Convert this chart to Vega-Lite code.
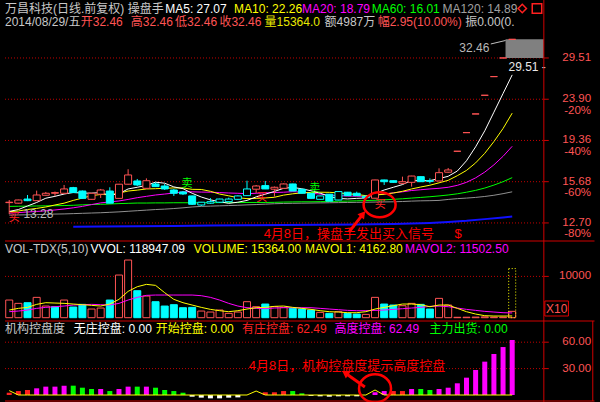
{
"$schema":"https://vega.github.io/schema/vega-lite/v6.json",
"background":"#000000",
"padding":0,
"autosize":{"type":"none"},
"width":600,"height":402,
"config":{"view":{"stroke":null},"font":"Liberation Sans, Noto Sans CJK SC","text":{"font":"Liberation Sans, Noto Sans CJK SC"}},
"datasets":{
"k":[
{"i":0,"o":14.09,"h":14.28,"l":13.28,"c":14.12,"d":"up","ma5":13.47,"ma10":13.45,"ma20":13.35,"ma60":13.82,"ma120":13.22,"v":42771,"vd":"up","mv1":18561,"mv2":14526,"ctl":2.6,"ct":"有庄","ks":5},
{"i":1,"o":14.05,"h":14.3,"l":14.03,"c":14.28,"d":"up","ma5":13.6,"ma10":13.5,"ma20":13.39,"ma60":13.83,"ma120":13.23,"v":34701,"vd":"up","mv1":22596,"mv2":16140,"ctl":4.5,"ct":"有庄","ks":0},
{"i":2,"o":14.35,"h":14.65,"l":14.2,"c":14.23,"d":"down","ma5":13.85,"ma10":13.6,"ma20":13.43,"ma60":13.84,"ma120":13.24,"v":36315,"vd":"down","mv1":25017,"mv2":18561,"ctl":5.7,"ct":"有庄","ks":0},
{"i":3,"o":14.23,"h":14.98,"l":14.22,"c":14.65,"d":"up","ma5":14.1,"ma10":13.68,"ma20":13.47,"ma60":13.85,"ma120":13.25,"v":49227,"vd":"up","mv1":32280,"mv2":22596,"ctl":7.6,"ct":"高度","ks":0},
{"i":4,"o":14.63,"h":14.88,"l":14.6,"c":14.78,"d":"up","ma5":14.41,"ma10":13.78,"ma20":13.51,"ma60":13.86,"ma120":13.27,"v":28245,"vd":"up","mv1":36315,"mv2":25017,"ctl":9.5,"ct":"高度","ks":0},
{"i":5,"o":14.78,"h":14.91,"l":14.58,"c":14.83,"d":"up","ma5":14.55,"ma10":13.92,"ma20":13.57,"ma60":13.87,"ma120":13.29,"v":26631,"vd":"down","mv1":35508,"mv2":26631,"ctl":9.5,"ct":"高度","ks":0},
{"i":6,"o":14.78,"h":15.42,"l":14.77,"c":15.11,"d":"up","ma5":14.72,"ma10":14.05,"ma20":13.64,"ma60":13.88,"ma120":13.3,"v":42771,"vd":"up","mv1":34701,"mv2":28245,"ctl":10.6,"ct":"高度","ks":0},
{"i":7,"o":15.21,"h":15.27,"l":14.8,"c":14.83,"d":"down","ma5":14.84,"ma10":14.25,"ma20":13.72,"ma60":13.9,"ma120":13.32,"ma250":12.45,"v":25824,"vd":"down","mv1":33087,"mv2":30666,"ctl":10.6,"ct":"出货","ks":0},
{"i":8,"o":14.95,"h":14.99,"l":14.38,"c":14.4,"d":"down","ma5":14.79,"ma10":14.42,"ma20":13.82,"ma60":13.93,"ma120":13.34,"v":32280,"vd":"down","mv1":31473,"mv2":31473,"ctl":8.3,"ct":"出货","ks":0},
{"i":9,"o":14.33,"h":14.8,"l":14.32,"c":14.78,"d":"up","ma5":14.79,"ma10":14.6,"ma20":13.95,"ma60":13.95,"ma120":13.36,"v":20982,"vd":"up","mv1":29859,"mv2":32280,"ctl":6.8,"ct":"出货","ks":0},
{"i":10,"o":14.71,"h":15.11,"l":14.43,"c":15.03,"d":"up","ma5":14.83,"ma10":14.69,"ma20":14.07,"ma60":13.97,"ma120":13.38,"ma250":12.47,"v":23403,"vd":"up","mv1":28245,"mv2":31473,"ctl":6.8,"ct":"高度","ks":0},
{"i":11,"o":14.95,"h":15.24,"l":14.04,"c":14.05,"d":"down","ma5":14.62,"ma10":14.67,"ma20":14.14,"ma60":13.99,"ma120":13.41,"v":42771,"vd":"down","mv1":33087,"mv2":30666,"ctl":4.5,"ct":"出货","ks":0},
{"i":12,"o":14.4,"h":15.5,"l":14.39,"c":15.48,"d":"up","ma5":14.75,"ma10":14.79,"ma20":14.21,"ma60":14.02,"ma120":13.44,"v":103296,"vd":"up","mv1":44385,"mv2":34701,"ctl":6.8,"ct":"高度","ks":0},
{"i":13,"o":15.48,"h":16.71,"l":15.46,"c":16.23,"d":"up","ma5":15.11,"ma10":14.95,"ma20":14.32,"ma60":14.04,"ma120":13.48,"v":139611,"vd":"up","mv1":63753,"mv2":42771,"ctl":9.5,"ct":"高度","ks":0},
{"i":14,"o":15.74,"h":15.9,"l":15.34,"c":15.42,"d":"down","ma5":15.24,"ma10":15.02,"ma20":14.45,"ma60":14.06,"ma120":13.52,"ma250":12.49,"v":65367,"vd":"down","mv1":75051,"mv2":49227,"ctl":9.5,"ct":"出货","ks":0},
{"i":15,"o":15.16,"h":15.95,"l":15.15,"c":15.76,"d":"up","ma5":15.39,"ma10":15.11,"ma20":14.55,"ma60":14.06,"ma120":13.56,"v":52455,"vd":"up","mv1":80700,"mv2":54069,"ctl":9.5,"ct":"高度","ks":0},
{"i":16,"o":15.5,"h":15.63,"l":15.27,"c":15.29,"d":"down","ma5":15.64,"ma10":15.13,"ma20":14.65,"ma60":14.07,"ma120":13.6,"v":38736,"vd":"down","mv1":78279,"mv2":54876,"ctl":8.3,"ct":"出货","ks":0},
{"i":17,"o":15.34,"h":15.5,"l":15.03,"c":15.11,"d":"down","ma5":15.56,"ma10":15.16,"ma20":14.72,"ma60":14.07,"ma120":13.63,"v":28245,"vd":"down","mv1":60525,"mv2":54876,"ctl":5.7,"ct":"出货","ks":0},
{"i":18,"o":15.03,"h":15.11,"l":14.58,"c":14.78,"d":"down","ma5":15.27,"ma10":15.19,"ma20":14.8,"ma60":14.08,"ma120":13.67,"ma250":12.51,"v":31473,"vd":"down","mv1":44385,"mv2":54876,"ctl":4.5,"ct":"出货","ks":0},
{"i":19,"o":14.88,"h":14.95,"l":14.65,"c":14.73,"d":"down","ma5":15.13,"ma10":15.19,"ma20":14.89,"ma60":14.08,"ma120":13.72,"v":24210,"vd":"down","mv1":36315,"mv2":54876,"ctl":2.6,"ct":"出货","ks":0},
{"i":20,"o":14.58,"h":14.6,"l":13.92,"c":13.97,"d":"down","ma5":14.78,"ma10":15.08,"ma20":14.89,"ma60":14.08,"ma120":13.78,"v":25017,"vd":"down","mv1":30666,"mv2":54876,"ctl":-1.9,"ct":"无庄","ks":0},
{"i":21,"o":14.12,"h":14.14,"l":13.85,"c":13.92,"d":"hollow","ma5":14.5,"ma10":15.07,"ma20":14.87,"ma60":14.08,"ma120":13.82,"v":16140,"vd":"up","mv1":25017,"mv2":53262,"ctl":-3,"ct":"无庄","ks":0},
{"i":22,"o":14.16,"h":14.42,"l":14,"c":14.05,"d":"hollow","ma5":14.29,"ma10":14.93,"ma20":14.86,"ma60":14.09,"ma120":13.84,"ma250":12.53,"v":13719,"vd":"up","mv1":20175,"mv2":49227,"ctl":-3.8,"ct":"无庄","ks":0},
{"i":23,"o":14.35,"h":14.37,"l":14.07,"c":14.12,"d":"hollow","ma5":14.16,"ma10":14.72,"ma20":14.83,"ma60":14.09,"ma120":13.86,"v":18561,"vd":"up","mv1":16947,"mv2":42771,"ctl":-3.8,"ct":"无庄","ks":0},
{"i":24,"o":14.35,"h":14.45,"l":14.14,"c":14.16,"d":"hollow","ma5":14.04,"ma10":14.59,"ma20":14.8,"ma60":14.09,"ma120":13.88,"v":10491,"vd":"up","mv1":14526,"mv2":34701,"ctl":-3,"ct":"无庄","ks":0},
{"i":25,"o":14.58,"h":14.62,"l":14.28,"c":14.33,"d":"hollow","ma5":14.12,"ma10":14.45,"ma20":14.78,"ma60":14.09,"ma120":13.9,"v":13719,"vd":"up","mv1":16947,"mv2":28245,"ctl":-2.7,"ct":"无庄","ks":0},
{"i":26,"o":15.11,"h":15.76,"l":14.58,"c":14.6,"d":"hollow","ma5":14.25,"ma10":14.38,"ma20":14.75,"ma60":14.1,"ma120":13.93,"ma250":12.55,"v":38736,"vd":"up","mv1":20982,"mv2":24210,"ks":0},
{"i":27,"o":15.09,"h":15.42,"l":14.8,"c":15.34,"d":"up","ma5":14.51,"ma10":14.4,"ma20":14.78,"ma60":14.1,"ma120":13.95,"v":26631,"vd":"up","mv1":24210,"mv2":22596,"ks":4.5},
{"i":28,"o":15.37,"h":15.74,"l":15.1,"c":15.11,"d":"down","ma5":14.71,"ma10":14.43,"ma20":14.81,"ma60":14.1,"ma120":13.98,"v":33087,"vd":"down","mv1":25017,"mv2":21789,"ctl":3.1,"ct":"有庄","ks":0},
{"i":29,"o":15.09,"h":15.3,"l":14.53,"c":15.24,"d":"up","ma5":14.92,"ma10":14.48,"ma20":14.84,"ma60":14.11,"ma120":14.01,"v":26631,"vd":"up","mv1":27438,"mv2":23403,"ctl":3.1,"ct":"有庄","ks":0},
{"i":30,"o":15.16,"h":15.54,"l":15.15,"c":15.5,"d":"up","ma5":15.16,"ma10":14.64,"ma20":14.86,"ma60":14.13,"ma120":14.03,"ma250":12.57,"v":25017,"vd":"up","mv1":28245,"mv2":24210,"ctl":4.5,"ct":"有庄","ks":0},
{"i":31,"o":15.5,"h":15.52,"l":14.94,"c":14.95,"d":"down","ma5":15.23,"ma10":14.74,"ma20":14.9,"ma60":14.14,"ma120":14.04,"v":22596,"vd":"down","mv1":25017,"mv2":24210,"ctl":4.5,"ct":"出货","ks":0},
{"i":32,"o":15.09,"h":15.11,"l":14.76,"c":14.78,"d":"down","ma5":15.12,"ma10":14.81,"ma20":14.87,"ma60":14.15,"ma120":14.05,"v":20982,"vd":"down","mv1":22596,"mv2":24210,"ctl":1.9,"ct":"出货","ks":0},
{"i":33,"o":14.78,"h":14.8,"l":14.38,"c":14.4,"d":"down","ma5":14.97,"ma10":14.84,"ma20":14.78,"ma60":14.15,"ma120":14.06,"v":18561,"vd":"down","mv1":20175,"mv2":24210,"ctl":-1,"ct":"无庄","ks":0},
{"i":34,"o":14.58,"h":14.6,"l":14.31,"c":14.33,"d":"hollow","ma5":14.79,"ma10":14.86,"ma20":14.72,"ma60":14.16,"ma120":14.07,"ma250":12.58,"v":12912,"vd":"up","mv1":16947,"mv2":22596,"ctl":-1.5,"ct":"无庄","ks":0},
{"i":35,"o":14.71,"h":14.72,"l":14.18,"c":14.2,"d":"down","ma5":14.53,"ma10":14.85,"ma20":14.65,"ma60":14.17,"ma120":14.08,"v":10491,"vd":"down","mv1":14526,"mv2":20982,"ctl":-1.9,"ct":"无庄","ks":0},
{"i":36,"o":14.91,"h":14.92,"l":14.26,"c":14.28,"d":"hollow","ma5":14.4,"ma10":14.81,"ma20":14.6,"ma60":14.19,"ma120":14.09,"v":14526,"vd":"up","mv1":13719,"mv2":19368,"ctl":-1.5,"ct":"无庄","ks":0},
{"i":37,"o":14.86,"h":14.88,"l":14.58,"c":14.6,"d":"down","ma5":14.36,"ma10":14.74,"ma20":14.57,"ma60":14.2,"ma120":14.1,"v":10491,"vd":"down","mv1":12105,"mv2":17754,"ctl":-1.5,"ct":"无庄","ks":0},
{"i":38,"o":14.78,"h":14.9,"l":14.58,"c":14.6,"d":"down","ma5":14.4,"ma10":14.69,"ma20":14.56,"ma60":14.22,"ma120":14.11,"ma250":12.6,"v":8877,"vd":"down","mv1":12105,"mv2":16947,"ctl":-1.5,"ct":"无庄","ks":0},
{"i":39,"o":14.56,"h":14.6,"l":14.4,"c":14.45,"d":"down","ma5":14.43,"ma10":14.6,"ma20":14.55,"ma60":14.24,"ma120":14.12,"v":8070,"vd":"up","mv1":14526,"mv2":16947,"ks":0},
{"i":40,"o":14.41,"h":15.84,"l":14.4,"c":15.82,"d":"up","ma5":14.75,"ma10":14.64,"ma20":14.64,"ma60":14.26,"ma120":14.13,"v":49227,"vd":"up","mv1":20982,"mv2":17754,"ctl":3.1,"ct":"高度","ks":5.7},
{"i":41,"o":15.82,"h":15.84,"l":15.42,"c":15.68,"d":"down","ma5":15.03,"ma10":14.71,"ma20":14.73,"ma60":14.29,"ma120":14.14,"v":33087,"vd":"down","mv1":25017,"mv2":18561,"ctl":4.5,"ct":"高度","ks":0},
{"i":42,"o":15.76,"h":15.78,"l":15.6,"c":15.63,"d":"down","ma5":15.24,"ma10":14.8,"ma20":14.81,"ma60":14.33,"ma120":14.15,"ma250":12.63,"v":30666,"vd":"down","mv1":29052,"mv2":20175,"ctl":4.5,"ct":"有庄","ks":0},
{"i":43,"o":15.55,"h":16.09,"l":15.53,"c":15.68,"d":"up","ma5":15.45,"ma10":14.93,"ma20":14.89,"ma60":14.37,"ma120":14.17,"v":29052,"vd":"up","mv1":33087,"mv2":21789,"ctl":4.5,"ct":"有庄","ks":0},
{"i":44,"o":15.63,"h":16.16,"l":15.29,"c":16.14,"d":"up","ma5":15.79,"ma10":15.11,"ma20":14.99,"ma60":14.42,"ma120":14.2,"ma250":12.66,"v":34701,"vd":"up","mv1":33087,"mv2":23403,"ctl":6.8,"ct":"高度","ks":0},
{"i":45,"o":16.09,"h":16.1,"l":15.66,"c":15.68,"d":"down","ma5":15.76,"ma10":15.26,"ma20":15.05,"ma60":14.47,"ma120":14.22,"v":32280,"vd":"down","mv1":31473,"mv2":25017,"ctl":6.8,"ct":"出货","ks":0},
{"i":46,"o":15.76,"h":15.95,"l":15.55,"c":15.71,"d":"down","ma5":15.77,"ma10":15.4,"ma20":15.11,"ma60":14.52,"ma120":14.23,"ma250":12.7,"v":20982,"vd":"down","mv1":26631,"mv2":27438,"ctl":5.7,"ct":"出货","ks":0},
{"i":47,"o":15.74,"h":16.79,"l":15.72,"c":16.42,"d":"up","ma5":15.93,"ma10":15.59,"ma20":15.16,"ma60":14.58,"ma120":14.25,"v":46806,"vd":"up","mv1":30666,"mv2":28245,"ctl":6.8,"ct":"高度","ks":0},
{"i":48,"o":16.46,"h":16.82,"l":16.42,"c":16.65,"d":"up","ma5":16.12,"ma10":15.79,"ma20":15.24,"ma60":14.65,"ma120":14.32,"ma250":12.76,"v":30666,"vd":"up","mv1":30666,"mv2":26631,"ctl":8.3,"ct":"高度","ks":0},
{"i":49,"o":18.32,"h":18.32,"l":18.32,"c":18.32,"d":"up","ma5":16.56,"ma10":16.17,"ma20":15.39,"ma60":14.74,"ma120":14.38,"v":1000,"vd":"up","mv1":22596,"mv2":23403,"ctl":13.3,"ct":"高度","ks":0},
{"i":50,"o":20.15,"h":20.15,"l":20.15,"c":20.15,"d":"up","ma5":17.45,"ma10":16.61,"ma20":15.63,"ma60":14.86,"ma120":14.42,"ma250":12.84,"v":1200,"vd":"up","mv1":14526,"mv2":20175,"ctl":19.7,"ct":"高度","ks":0},
{"i":51,"o":22.17,"h":22.17,"l":22.17,"c":22.17,"d":"up","ma5":18.74,"ma10":17.26,"ma20":15.99,"ma60":15.0,"ma120":14.47,"v":1500,"vd":"up","mv1":8877,"mv2":17754,"ctl":28.4,"ct":"高度","ks":0},
{"i":52,"o":24.39,"h":24.39,"l":24.39,"c":24.39,"d":"up","ma5":20.34,"ma10":18.13,"ma20":16.47,"ma60":15.18,"ma120":14.54,"ma250":12.95,"v":2000,"vd":"up","mv1":4842,"mv2":15333,"ctl":37.9,"ct":"高度","ks":0},
{"i":53,"o":26.83,"h":26.83,"l":26.83,"c":26.83,"d":"up","ma5":22.37,"ma10":19.25,"ma20":17.09,"ma60":15.41,"ma120":14.63,"v":1300,"vd":"up","mv1":4035,"mv2":13719,"ctl":46.6,"ct":"高度","ks":0},
{"i":54,"o":29.51,"h":29.51,"l":29.51,"c":29.51,"d":"up","ma5":24.61,"ma10":20.58,"ma20":17.85,"ma60":15.68,"ma120":14.75,"ma250":13.06,"v":1200,"vd":"up","mv1":4035,"mv2":12105,"ctl":54.5,"ct":"高度","ks":0},
{"i":55,"o":32.46,"h":32.46,"l":32.46,"c":32.46,"d":"up","ma5":27.07,"ma10":22.26,"ma20":18.79,"ma60":16.01,"ma120":14.89,"ma250":13.12,"v":15364,"vd":"up","mv1":4163,"mv2":11503,"ctl":62.49,"ct":"高度","ks":0}
],
"g1":[{"p":12.7,"i":63.62,"t":"12.70","pc":"-80%"},{"p":14.11},{"p":15.68,"i":63.62,"t":"15.68","pc":"-60%"},{"p":17.42},{"p":19.36,"i":63.62,"t":"19.36","pc":"-40%"},{"p":21.51},{"p":23.9,"i":63.62,"t":"23.90","pc":"-20%"},{"p":26.56},{"p":29.51,"i":63.62,"t":"29.51"},{"p":32.46}],
"g2":[{"y":100000,"i":63.62,"t":"10000"}],
"g3":[{"y":30,"i":63.62,"t":"30.00","gr":1},{"y":45},{"y":60,"i":63.62,"t":"60.00","gr":1}],
"box":[{"i":54.27,"i2":58.46,"p":29.51,"p2":32.46}],
"hdr":[
{"i":-0.46,"p":38.0,"t":"万昌科技(日线.前复权) 操盘手","k":"名称"},
{"i":17.06,"p":38.0,"t":"MA5: 27.07","k":"MA5"},
{"i":24.59,"p":38.0,"t":"MA10: 22.26","k":"MA10"},
{"i":32.01,"p":38.0,"t":"MA20: 18.79","k":"MA20"},
{"i":39.64,"p":38.0,"t":"MA60: 16.01","k":"MA60"},
{"i":47.39,"p":38.0,"t":"MA120: 14.89","k":"MA120"},
{"i":-0.46,"p":35.47,"t":"2014/08/29/五","k":"名称"},
{"i":7.82,"p":35.47,"t":"开32.46","k":"行情"},
{"i":13.3,"p":35.47,"t":"高32.46","k":"行情"},
{"i":18.14,"p":35.47,"t":"低32.46","k":"行情"},
{"i":22.98,"p":35.47,"t":"收32.46","k":"行情"},
{"i":27.92,"p":35.47,"t":"量15364.0","k":"量"},
{"i":34.48,"p":35.47,"t":"额4987万","k":"名称"},
{"i":40.29,"p":35.47,"t":"幅2.95(10.00%)","k":"行情"},
{"i":49.86,"p":35.47,"t":"振0.00(0.","k":"名称"},
{"i":1.55,"p":13.29,"t":"13.28","k":"极值"},
{"i":49.22,"p":31.13,"t":"32.46","k":"极值"},
{"i":54.59,"p":28.11,"t":"29.51 -","k":"极值2"}
],
"sig":[
{"i":0.56,"p":13.02,"t":"买","k":"买"},
{"i":27.6,"p":14.45,"t":"买","k":"买"},
{"i":19.43,"p":15.53,"t":"卖","k":"卖"},
{"i":33.4,"p":15.14,"t":"卖","k":"卖"},
{"i":40.56,"p":13.94,"t":"买","k":"买"}
],
"note":[
{"i":27.82,"p":12.03,"t":"4月8日，操盘手发出买入信号","k":"注释"},
{"i":48.7,"p":12.03,"t":"$","k":"注释"}
],
"circ1":[{"i":40.5,"p":13.94}],
"arr1":[{"i":37.17,"p":12.13,"i2":38.68,"p2":13.29}],
"maxarr":[{"i":52.66,"p":31.7,"i2":54.27,"p2":32.27}],
"icons":[{"i":56.1,"p":38.0,"s":"diamond"},{"i":57.71,"p":38.0,"s":"square"}],
"vv":[{"i":55,"vv":118947.09}],
"vtxt":[
{"i":-0.46,"y":166344,"t":"VOL-TDX(5,10)","k":"名称"},
{"i":8.89,"y":166344,"t":"VVOL: 118947.09","k":"VVOL"},
{"i":20.18,"y":166344,"t":"VOLUME: 15364.00","k":"VOLUME"},
{"i":32.33,"y":166344,"t":"MAVOL1: 4162.80","k":"MAVOL1"},
{"i":43.27,"y":166344,"t":"MAVOL2: 11502.50","k":"MAVOL2"}
],
"x10":[{"i":58.57,"i2":61.15,"y":4116,"y2":40436,"ic":59.86,"yc":22276,"t":"X10"}],
"itxt":[
{"i":-0.46,"y":75,"t":"机构控盘度","k":"名称"},
{"i":7.06,"y":75,"t":"无庄控盘: 0.00","k":"无庄控盘"},
{"i":16.02,"y":75,"t":"开始控盘: 0.00","k":"开始控盘"},
{"i":25.45,"y":75,"t":"有庄控盘: 62.49","k":"有庄控盘"},
{"i":35.56,"y":75,"t":"高度控盘: 62.49","k":"高度控盘"},
{"i":45.96,"y":75,"t":"主力出货: 0.00","k":"主力出货"}
],
"inote":[{"i":26.2,"y":33.0,"t":"4月8日，机构控盘度提示高度控盘"}],
"circ2":[{"i":40.0,"y":7.5}],
"arr2":[{"i":38.89,"y":9.1,"i2":36.74,"y2":25.0}]
},
"encoding":{"x":{"field":"i","type":"quantitative","scale":{"domain":[-0.4624,64.054],"nice":false,"zero":false},"axis":null}},
"resolve":{"scale":{"y":"independent","color":"independent","fill":"independent","stroke":"independent"}},
"layer":[
{
"layer":[
{"data":{"name":"g1"},"mark":{"type":"rule","stroke":"#c00000","strokeDash":[1,2],"strokeWidth":1},"encoding":{"x":{"datum":-0.4624},"x2":{"datum":58.46},"y":{"field":"p","type":"quantitative","scale":{"type":"log","domain":[5.0855,39.69],"nice":false},"axis":null}}},
{"data":{"name":"g1"},"mark":{"type":"rule","stroke":"#d00000","strokeWidth":1},"encoding":{"x":{"datum":58.46},"x2":{"datum":59.0},"y":{"field":"p","type":"quantitative","scale":{"type":"log","domain":[5.0855,39.69],"nice":false},"axis":null}}},
{"data":{"name":"g1"},"transform":[{"filter":"isValid(datum.t)"}],"mark":{"type":"text","align":"right","baseline":"middle","fontSize":11.5,"fill":"#ff5454","font":"Liberation Sans"},"encoding":{"y":{"field":"p","type":"quantitative","scale":{"type":"log","domain":[5.0855,39.69],"nice":false},"axis":null},"text":{"field":"t"}}},
{"data":{"name":"g1"},"transform":[{"filter":"isValid(datum.pc)"}],"mark":{"type":"text","align":"right","baseline":"middle","fontSize":11.5,"dy":11.5,"fill":"#ff5454","font":"Liberation Sans"},"encoding":{"y":{"field":"p","type":"quantitative","scale":{"type":"log","domain":[5.0855,39.69],"nice":false},"axis":null},"text":{"field":"pc"}}},
{"data":{"name":"box"},"mark":{"type":"rect","fill":"#808080"},"encoding":{"x2":{"field":"i2"},"y":{"field":"p","type":"quantitative","scale":{"type":"log","domain":[5.0855,39.69],"nice":false},"axis":null},"y2":{"field":"p2"}}},
{"data":{"name":"k"},"transform":[{"filter":"isValid(datum.ma250)"}],"mark":{"type":"line","stroke":"#1010ff","strokeWidth":2},"encoding":{"y":{"field":"ma250","type":"quantitative","scale":{"type":"log","domain":[5.0855,39.69],"nice":false},"axis":null}}},
{"data":{"name":"k"},"mark":{"type":"line","stroke":"#909090","strokeWidth":1},"encoding":{"y":{"field":"ma120","type":"quantitative","scale":{"type":"log","domain":[5.0855,39.69],"nice":false},"axis":null}}},
{"data":{"name":"k"},"mark":{"type":"line","stroke":"#00ff00","strokeWidth":1},"encoding":{"y":{"field":"ma60","type":"quantitative","scale":{"type":"log","domain":[5.0855,39.69],"nice":false},"axis":null}}},
{"data":{"name":"k"},"mark":{"type":"line","stroke":"#ff00ff","strokeWidth":1},"encoding":{"y":{"field":"ma20","type":"quantitative","scale":{"type":"log","domain":[5.0855,39.69],"nice":false},"axis":null}}},
{"data":{"name":"k"},"mark":{"type":"line","stroke":"#ffff00","strokeWidth":1},"encoding":{"y":{"field":"ma10","type":"quantitative","scale":{"type":"log","domain":[5.0855,39.69],"nice":false},"axis":null}}},
{"data":{"name":"k"},"mark":{"type":"line","stroke":"#ffffff","strokeWidth":1},"encoding":{"y":{"field":"ma5","type":"quantitative","scale":{"type":"log","domain":[5.0855,39.69],"nice":false},"axis":null}}},
{"data":{"name":"k"},"mark":{"type":"rule","strokeWidth":1},"encoding":{"y":{"field":"l","type":"quantitative","scale":{"type":"log","domain":[5.0855,39.69],"nice":false},"axis":null},"y2":{"field":"h"},"stroke":{"field":"d","type":"nominal","scale":{"domain":["up","down","hollow"],"range":["#ff5454","#00ffff","#00ffff"]},"legend":null}}},
{"data":{"name":"k"},"mark":{"type":"bar","width":7,"strokeWidth":1},"encoding":{"y":{"field":"o","type":"quantitative","scale":{"type":"log","domain":[5.0855,39.69],"nice":false},"axis":null},"y2":{"field":"c"},"fill":{"field":"d","type":"nominal","scale":{"domain":["up","down","hollow"],"range":["#000000","#00ffff","#000000"]},"legend":null},"stroke":{"field":"d","type":"nominal","scale":{"domain":["up","down","hollow"],"range":["#ff5454","#00ffff","#00ffff"]},"legend":null}}},
{"data":{"name":"maxarr"},"mark":{"type":"rule","stroke":"#c0c0c0","strokeWidth":1},"encoding":{"y":{"field":"p","type":"quantitative","scale":{"type":"log","domain":[5.0855,39.69],"nice":false},"axis":null},"x2":{"field":"i2"},"y2":{"field":"p2"}}},
{"data":{"name":"hdr"},"mark":{"type":"text","align":"left","baseline":"middle","fontSize":12},"encoding":{"y":{"field":"p","type":"quantitative","scale":{"type":"log","domain":[5.0855,39.69],"nice":false},"axis":null},"text":{"field":"t"},"color":{"field":"k","type":"nominal","scale":{"domain":["名称","MA5","MA10","MA20","MA60","MA120","行情","量","极值","极值2","买","卖","注释"],"range":["#c8c8c8","#ffffff","#ffff00","#ff00ff","#00ff00","#a0a0a0","#ff5454","#e8e800","#b8b8b8","#e8e8e8","#ff2020","#00ff00","#ff0000"]},"legend":null}}},
{"data":{"name":"sig"},"mark":{"type":"text","align":"center","baseline":"middle","fontSize":11},"encoding":{"y":{"field":"p","type":"quantitative","scale":{"type":"log","domain":[5.0855,39.69],"nice":false},"axis":null},"text":{"field":"t"},"color":{"field":"k","type":"nominal","scale":{"domain":["名称","MA5","MA10","MA20","MA60","MA120","行情","量","极值","极值2","买","卖","注释"],"range":["#c8c8c8","#ffffff","#ffff00","#ff00ff","#00ff00","#a0a0a0","#ff5454","#e8e800","#b8b8b8","#e8e8e8","#ff2020","#00ff00","#ff0000"]},"legend":null}}},
{"data":{"name":"note"},"mark":{"type":"text","align":"left","baseline":"middle","fontSize":13},"encoding":{"y":{"field":"p","type":"quantitative","scale":{"type":"log","domain":[5.0855,39.69],"nice":false},"axis":null},"text":{"field":"t"},"color":{"field":"k","type":"nominal","scale":{"domain":["名称","MA5","MA10","MA20","MA60","MA120","行情","量","极值","极值2","买","卖","注释"],"range":["#c8c8c8","#ffffff","#ffff00","#ff00ff","#00ff00","#a0a0a0","#ff5454","#e8e800","#b8b8b8","#e8e8e8","#ff2020","#00ff00","#ff0000"]},"legend":null}}},
{"data":{"name":"circ1"},"mark":{"type":"point","shape":"M -1 0 A 1 0.78 0 1 1 1 0 A 1 0.78 0 1 1 -1 0 Z","filled":false,"stroke":"#ff0000","strokeWidth":2.5,"size":1024,"opacity":1},"encoding":{"y":{"field":"p","type":"quantitative","scale":{"type":"log","domain":[5.0855,39.69],"nice":false},"axis":null}}},
{"data":{"name":"arr1"},"mark":{"type":"rule","stroke":"#ff0000","strokeWidth":3},"encoding":{"y":{"field":"p","type":"quantitative","scale":{"type":"log","domain":[5.0855,39.69],"nice":false},"axis":null},"x2":{"field":"i2"},"y2":{"field":"p2"}}},
{"data":{"name":"arr1"},"mark":{"type":"point","shape":"triangle-up","filled":true,"fill":"#ff0000","size":70,"angle":38,"opacity":1},"encoding":{"x":{"field":"i2","type":"quantitative"},"y":{"field":"p2","type":"quantitative","scale":{"type":"log","domain":[5.0855,39.69],"nice":false},"axis":null}}},
{"data":{"name":"icons"},"transform":[{"filter":"datum.s == 'diamond'"}],"mark":{"type":"point","shape":"diamond","filled":false,"stroke":"#ff2020","strokeWidth":1.5,"size":70,"opacity":1},"encoding":{"y":{"field":"p","type":"quantitative","scale":{"type":"log","domain":[5.0855,39.69],"nice":false},"axis":null}}},
{"data":{"name":"icons"},"transform":[{"filter":"datum.s == 'square'"}],"mark":{"type":"point","shape":"square","filled":false,"stroke":"#ff2020","strokeWidth":1.5,"size":90,"opacity":1},"encoding":{"y":{"field":"p","type":"quantitative","scale":{"type":"log","domain":[5.0855,39.69],"nice":false},"axis":null}}},
{"data":{"name":"box"},"mark":{"type":"rule","stroke":"#d00000","strokeWidth":1},"encoding":{"x":{"datum":58.46}}}
]
},
{
"layer":[
{"data":{"name":"g2"},"mark":{"type":"rule","stroke":"#c00000","strokeDash":[1,2],"strokeWidth":1},"encoding":{"x":{"datum":-0.4624},"x2":{"datum":58.46},"y":{"field":"y","type":"quantitative","scale":{"domain":[-204116,769249],"nice":false,"zero":false},"axis":null}}},
{"data":{"name":"g2"},"mark":{"type":"rule","stroke":"#d00000","strokeWidth":1},"encoding":{"x":{"datum":58.46},"x2":{"datum":59.0},"y":{"field":"y","type":"quantitative","scale":{"domain":[-204116,769249],"nice":false,"zero":false},"axis":null}}},
{"data":{"name":"g2"},"mark":{"type":"text","align":"right","baseline":"middle","fontSize":11.5,"fill":"#ff5454","font":"Liberation Sans"},"encoding":{"y":{"field":"y","type":"quantitative","scale":{"domain":[-204116,769249],"nice":false,"zero":false},"axis":null},"text":{"field":"t"}}},
{"data":{"name":"k"},"mark":{"type":"bar","width":7,"strokeWidth":1},"encoding":{"y":{"field":"v","type":"quantitative","scale":{"domain":[-204116,769249],"nice":false,"zero":false},"axis":null},"y2":{"datum":0},
  "fill":{"field":"vd","type":"nominal","scale":{"domain":["up","down"],"range":["#000000","#00ffff"]},"legend":null},
  "stroke":{"field":"vd","type":"nominal","scale":{"domain":["up","down"],"range":["#ff5454","#00ffff"]},"legend":null}}},
{"data":{"name":"vv"},"mark":{"type":"bar","width":7,"fillOpacity":0,"stroke":"#ffff00","strokeDash":[1,2],"strokeWidth":1},"encoding":{"y":{"field":"vv","type":"quantitative","scale":{"domain":[-204116,769249],"nice":false,"zero":false},"axis":null},"y2":{"datum":0}}},
{"data":{"name":"k"},"mark":{"type":"line","stroke":"#ff00ff","strokeWidth":1},"encoding":{"y":{"field":"mv2","type":"quantitative","scale":{"domain":[-204116,769249],"nice":false,"zero":false},"axis":null}}},
{"data":{"name":"k"},"mark":{"type":"line","stroke":"#ffff00","strokeWidth":1},"encoding":{"y":{"field":"mv1","type":"quantitative","scale":{"domain":[-204116,769249],"nice":false,"zero":false},"axis":null}}},
{"data":{"name":"vtxt"},"mark":{"type":"text","align":"left","baseline":"middle","fontSize":12},"encoding":{"y":{"field":"y","type":"quantitative","scale":{"domain":[-204116,769249],"nice":false,"zero":false},"axis":null},"text":{"field":"t"},"color":{"field":"k","type":"nominal","scale":{"domain":["名称","VVOL","VOLUME","MAVOL1","MAVOL2"],"range":["#c8c8c8","#ffffff","#ffff00","#ffff00","#ff00ff"]},"legend":null}}},
{"data":{"name":"x10"},"mark":{"type":"rect","fillOpacity":0,"stroke":"#e00000","strokeWidth":1},"encoding":{"x2":{"field":"i2"},"y":{"field":"y","type":"quantitative","scale":{"domain":[-204116,769249],"nice":false,"zero":false},"axis":null},"y2":{"field":"y2"}}},
{"data":{"name":"x10"},"mark":{"type":"text","align":"center","baseline":"middle","fontSize":12,"fill":"#ff5454","font":"Liberation Sans"},"encoding":{"x":{"field":"ic","type":"quantitative"},"y":{"field":"yc","type":"quantitative","scale":{"domain":[-204116,769249],"nice":false,"zero":false},"axis":null},"text":{"field":"t"}}},
{"data":{"name":"x10"},"mark":{"type":"rule","stroke":"#d00000","strokeWidth":1},"encoding":{"x":{"datum":-0.4624},"x2":{"datum":64.0},"y":{"datum":185714,"type":"quantitative","scale":{"domain":[-204116,769249],"nice":false,"zero":false},"axis":null}}}
]
},
{
"layer":[
{"data":{"name":"g3"},"transform":[{"filter":"isValid(datum.gr)"}],"mark":{"type":"rule","stroke":"#c00000","strokeDash":[1,2],"strokeWidth":1},"encoding":{"x":{"datum":-0.4624},"x2":{"datum":58.46},"y":{"field":"y","type":"quantitative","scale":{"domain":[-7.95,448.86],"nice":false,"zero":false},"axis":null}}},
{"data":{"name":"g3"},"mark":{"type":"rule","stroke":"#d00000","strokeWidth":1},"encoding":{"x":{"datum":58.46},"x2":{"datum":59.0},"y":{"field":"y","type":"quantitative","scale":{"domain":[-7.95,448.86],"nice":false,"zero":false},"axis":null}}},
{"data":{"name":"g3"},"transform":[{"filter":"isValid(datum.t)"}],"mark":{"type":"text","align":"right","baseline":"middle","fontSize":11.5,"fill":"#ff5454","font":"Liberation Sans"},"encoding":{"y":{"field":"y","type":"quantitative","scale":{"domain":[-7.95,448.86],"nice":false,"zero":false},"axis":null},"text":{"field":"t"}}},
{"data":{"name":"k"},"transform":[{"filter":"isValid(datum.ctl)"}],"mark":{"type":"bar","width":5},"encoding":{"y":{"field":"ctl","type":"quantitative","scale":{"domain":[-7.95,448.86],"nice":false,"zero":false},"axis":null},"y2":{"datum":0},
  "fill":{"field":"ct","type":"nominal","scale":{"domain":["有庄","高度","出货","无庄"],"range":["#ff2020","#ff00ff","#00ff00","#ffffff"]},"legend":null}}},
{"data":{"name":"k"},"mark":{"type":"line","stroke":"#ffff00","strokeWidth":1},"encoding":{"y":{"field":"ks","type":"quantitative","scale":{"domain":[-7.95,448.86],"nice":false,"zero":false},"axis":null}}},
{"data":{"name":"itxt"},"mark":{"type":"text","align":"left","baseline":"middle","fontSize":12},"encoding":{"y":{"field":"y","type":"quantitative","scale":{"domain":[-7.95,448.86],"nice":false,"zero":false},"axis":null},"text":{"field":"t"},"color":{"field":"k","type":"nominal","scale":{"domain":["名称","无庄控盘","开始控盘","有庄控盘","高度控盘","主力出货"],"range":["#c8c8c8","#ffffff","#ffff00","#ff2020","#ff00ff","#00ff00"]},"legend":null}}},
{"data":{"name":"inote"},"mark":{"type":"text","align":"left","baseline":"middle","fontSize":13,"fill":"#ff0000"},"encoding":{"y":{"field":"y","type":"quantitative","scale":{"domain":[-7.95,448.86],"nice":false,"zero":false},"axis":null},"text":{"field":"t"}}},
{"data":{"name":"circ2"},"mark":{"type":"point","shape":"M -1 0 A 1 0.88 0 1 1 1 0 A 1 0.88 0 1 1 -1 0 Z","filled":false,"stroke":"#ff0000","strokeWidth":2.5,"size":1024,"opacity":1},"encoding":{"y":{"field":"y","type":"quantitative","scale":{"domain":[-7.95,448.86],"nice":false,"zero":false},"axis":null}}},
{"data":{"name":"arr2"},"mark":{"type":"rule","stroke":"#ff0000","strokeWidth":3},"encoding":{"y":{"field":"y","type":"quantitative","scale":{"domain":[-7.95,448.86],"nice":false,"zero":false},"axis":null},"x2":{"field":"i2"},"y2":{"field":"y2"}}},
{"data":{"name":"arr2"},"mark":{"type":"point","shape":"triangle-up","filled":true,"fill":"#ff0000","size":70,"angle":305,"opacity":1},"encoding":{"x":{"field":"i2","type":"quantitative"},"y":{"field":"y2","type":"quantitative","scale":{"domain":[-7.95,448.86],"nice":false,"zero":false},"axis":null}}},
{"data":{"name":"circ2"},"mark":{"type":"rule","stroke":"#d00000","strokeWidth":1},"encoding":{"x":{"datum":-0.4624},"x2":{"datum":64.0},"y":{"datum":84.09,"type":"quantitative","scale":{"domain":[-7.95,448.86],"nice":false,"zero":false},"axis":null}}},
{"data":{"name":"circ2"},"mark":{"type":"rule","stroke":"#d00000","strokeWidth":1},"encoding":{"x":{"datum":-0.4624},"x2":{"datum":64.0},"y":{"datum":-6.82,"type":"quantitative","scale":{"domain":[-7.95,448.86],"nice":false,"zero":false},"axis":null}}},
{"data":{"name":"circ2"},"mark":{"type":"rule","stroke":"#d00000","strokeWidth":1},"encoding":{"x":{"datum":63.81},"y":{"datum":84.09,"type":"quantitative","scale":{"domain":[-7.95,448.86],"nice":false,"zero":false},"axis":null},"y2":{"datum":-6.82}}}
]
}
]
}
